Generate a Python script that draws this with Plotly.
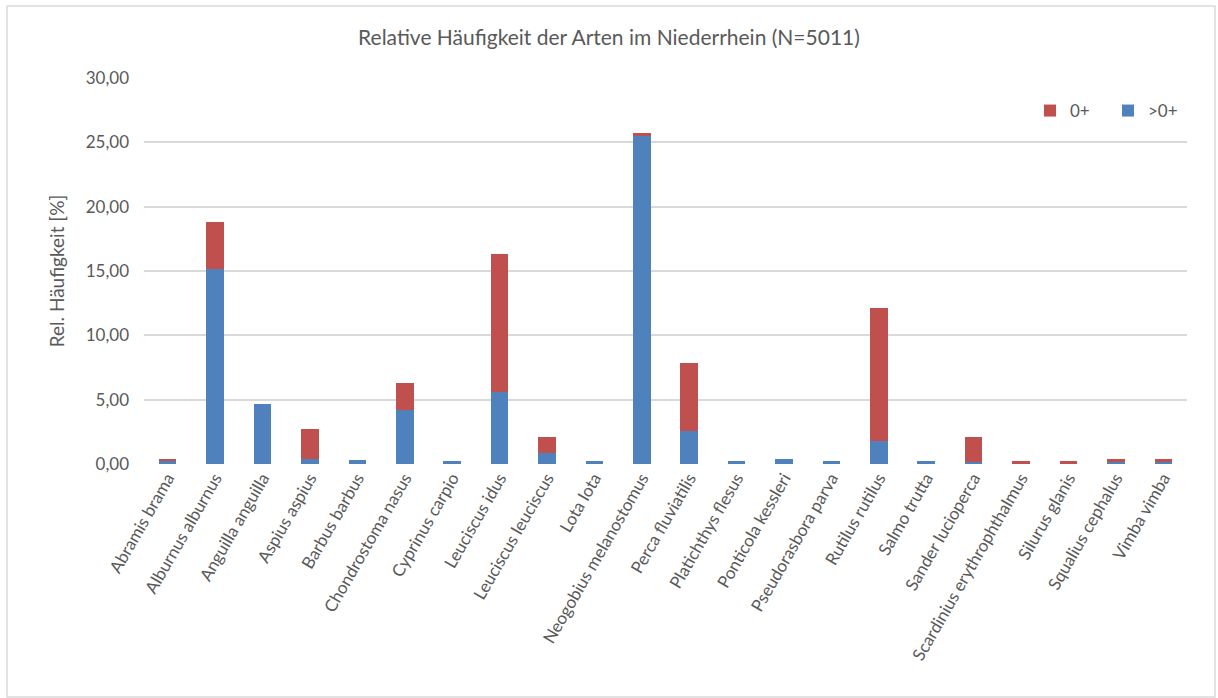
import plotly.graph_objects as go

# Species (x categories)
species = [
    "Abramis brama", "Alburnus alburnus", "Anguilla anguilla", "Aspius aspius",
    "Barbus barbus", "Chondrostoma nasus", "Cyprinus carpio", "Leuciscus idus",
    "Leuciscus leuciscus", "Lota lota", "Neogobius melanostomus", "Perca fluviatilis",
    "Platichthys flesus", "Ponticola kessleri", "Pseudorasbora parva", "Rutilus rutilus",
    "Salmo trutta", "Sander lucioperca", "Scardinius erythrophthalmus", "Silurus glanis",
    "Squalius cephalus", "Vimba vimba",
]
# relative frequency [%] of older fish (>0+)
older = [0.20, 15.15, 4.66, 0.36, 0.34, 4.20, 0.20, 5.59, 0.83, 0.20, 25.49,
         2.59, 0.20, 0.36, 0.20, 1.79, 0.20, 0.16, 0.00, 0.00, 0.22, 0.22]
# relative frequency [%] of young-of-the-year (0+)
young = [0.16, 3.68, 0.00, 2.38, 0.00, 2.07, 0.00, 10.70, 1.27, 0.00, 0.23,
         5.23, 0.00, 0.00, 0.00, 10.36, 0.00, 1.94, 0.20, 0.20, 0.14, 0.14]

y_ticks = [0, 5, 10, 15, 20, 25, 30]

BLUE = "#4F81BD"
RED = "#C0504D"
TEXT = "#595959"
GRID = "#D9D9D9"
FONT = "Lato, Open Sans, sans-serif"

W, H = 1218, 698
ML, MR, MT, MB = 144, 31, 78, 234

fig = go.Figure()
fig.add_trace(go.Bar(x=species, y=older, name=">0+", marker_color=BLUE,
                     marker_line_width=0))
fig.add_trace(go.Bar(x=species, y=young, name="0+", marker_color=RED,
                     marker_line_width=0))

pw = W - ML - MR
ph = H - MT - MB

# thin light frame around the whole chart area
fig.add_shape(type="rect", xref="paper", yref="paper",
              x0=(7 - ML) / pw, x1=(W - 3 - ML) / pw,
              y0=(H - MB - 697) / ph, y1=(H - MB - 6) / ph,
              line=dict(color=GRID, width=1.5), fillcolor="rgba(0,0,0,0)",
              layer="below")

fig.update_layout(
    width=W, height=H,
    margin=dict(l=ML, r=MR, t=MT, b=MB, autoexpand=False),
    paper_bgcolor="white", plot_bgcolor="white",
    barmode="stack", bargap=0.63,
    separators=",.",
    font=dict(family=FONT, color=TEXT, size=17),
    title=dict(text="Relative Häufigkeit der Arten im Niederrhein (N=5011)",
               x=0.5, xanchor="center", y=1 - 38 / H, yanchor="middle",
               font=dict(size=21, color=TEXT, family=FONT)),
    legend=dict(orientation="h", traceorder="reversed",
                x=(1030 - ML) / pw, xanchor="left",
                y=(H - MB - 111) / ph, yanchor="middle",
                entrywidth=33, entrywidthmode="pixels",
                font=dict(size=17, color=TEXT), bgcolor="rgba(0,0,0,0)",
                itemclick=False),
    showlegend=True,
)

fig.update_xaxes(tickangle=-60, showgrid=False, zeroline=False,
                 showline=False, ticks="", tickfont=dict(size=17, color=TEXT))
fig.update_yaxes(range=[0, 30], tickvals=y_ticks, tickformat=".2f",
                 showgrid=True, gridcolor=GRID, gridwidth=1.5,
                 zeroline=False, showline=False, ticks="",
                 ticklabelstandoff=14,
                 tickfont=dict(size=17, color=TEXT),
                 title=dict(text="Rel. Häufigkeit [%]", standoff=16,
                            font=dict(size=19, color=TEXT)))

fig.write_html("out.html")
